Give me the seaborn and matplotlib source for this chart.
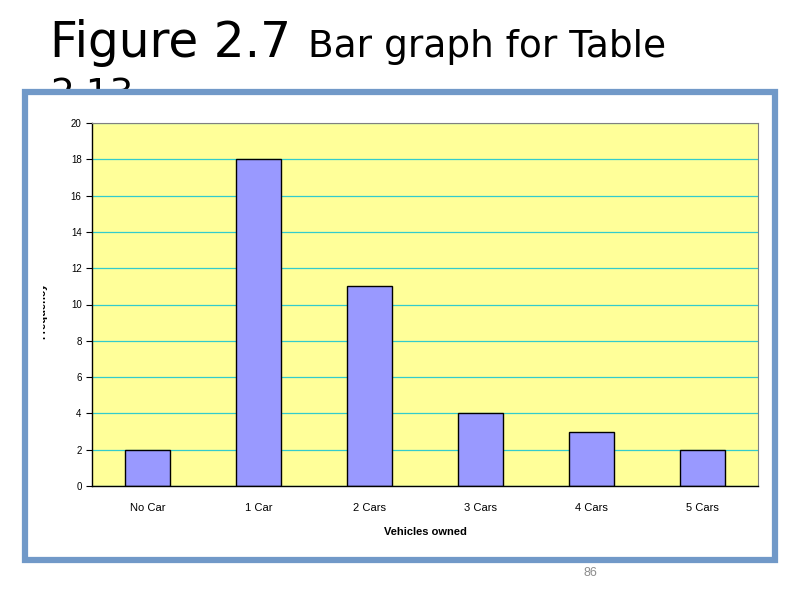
import matplotlib
matplotlib.use("Agg")
import matplotlib.pyplot as plt
import seaborn as sns
import pandas as pd
from matplotlib.patches import Rectangle

categories = ["No Car", "1 Car", "2 Cars", "3 Cars", "4 Cars", "5 Cars"]
frequency = [2, 18, 11, 4, 3, 2]
y_ticks = [0, 2, 4, 6, 8, 10, 12, 14, 16, 18, 20]

df = pd.DataFrame({"vehicles": categories, "frequency": frequency})

sns.set_style("white")
plt.rcParams["font.family"] = ["Liberation Sans", "DejaVu Sans"]
plt.rcParams["text.color"] = "black"
plt.rcParams["xtick.color"] = "black"
plt.rcParams["ytick.color"] = "black"
plt.rcParams["axes.labelcolor"] = "black"

fig = plt.figure(figsize=(8, 6), dpi=100)

# slide title (second line is hidden behind the chart frame)
fig.text(0.0625, 0.905, "Figure 2.7", fontsize=35, family="DejaVu Sans", zorder=3)
fig.text(0.385, 0.905, "Bar graph for Table", fontsize=27, family="DejaVu Sans", zorder=3)
fig.text(0.0625, 0.825, "2.13", fontsize=27, family="DejaVu Sans", zorder=3)

# chart frame
frame = Rectangle((0.031, 0.066), 0.938, 0.78, transform=fig.transFigure,
                  facecolor="white", edgecolor="#7199C8", linewidth=4.5, zorder=5)
fig.patches.append(frame)

ax = fig.add_axes([0.115, 0.19, 0.8325, 0.605], zorder=6)
ax.set_facecolor("#FFFF99")
sns.barplot(data=df, x="vehicles", y="frequency", color="#9999FF",
            edgecolor="black", linewidth=1, width=0.4, saturation=1, ax=ax)

ax.set_xlim(-0.5, 5.5)
ax.set_ylim(0, 20)
ax.set_yticks(y_ticks)
ax.yaxis.grid(True, color="#33CCCC", linewidth=0.9)
ax.set_axisbelow(True)

ax.set_xticks([i - 0.5 for i in range(7)], minor=True)
ax.tick_params(axis="x", which="major", length=0, labelsize=8, pad=12)
ax.tick_params(axis="x", which="minor", length=4, width=0.8, direction="out", color="black")
ax.tick_params(axis="y", length=4, width=0.8, direction="out", color="black", labelsize=7, left=True)

for side in ["top", "right"]:
    ax.spines[side].set_color("#808080")
    ax.spines[side].set_linewidth(0.8)
for side in ["left", "bottom"]:
    ax.spines[side].set_color("black")
    ax.spines[side].set_linewidth(1)

ax.set_xlabel("Vehicles owned", fontsize=8, fontweight="bold", labelpad=10)
ax.set_ylabel("")

# y-axis label, only its lower half shows in the original
ylab = fig.text(0.0525, 0.482, "Frequency", rotation=90, fontsize=8,
                fontweight="bold", ha="center", va="center", zorder=7)
ylab.set_clip_on(True)
ylab.set_clip_box(matplotlib.transforms.Bbox.from_extents(42.5, 200, 80, 400))

fig.text(0.7375, 0.04, "86", fontsize=9, color="#8C8C8C", ha="center", zorder=7)

fig.savefig("out.png", dpi=100)
